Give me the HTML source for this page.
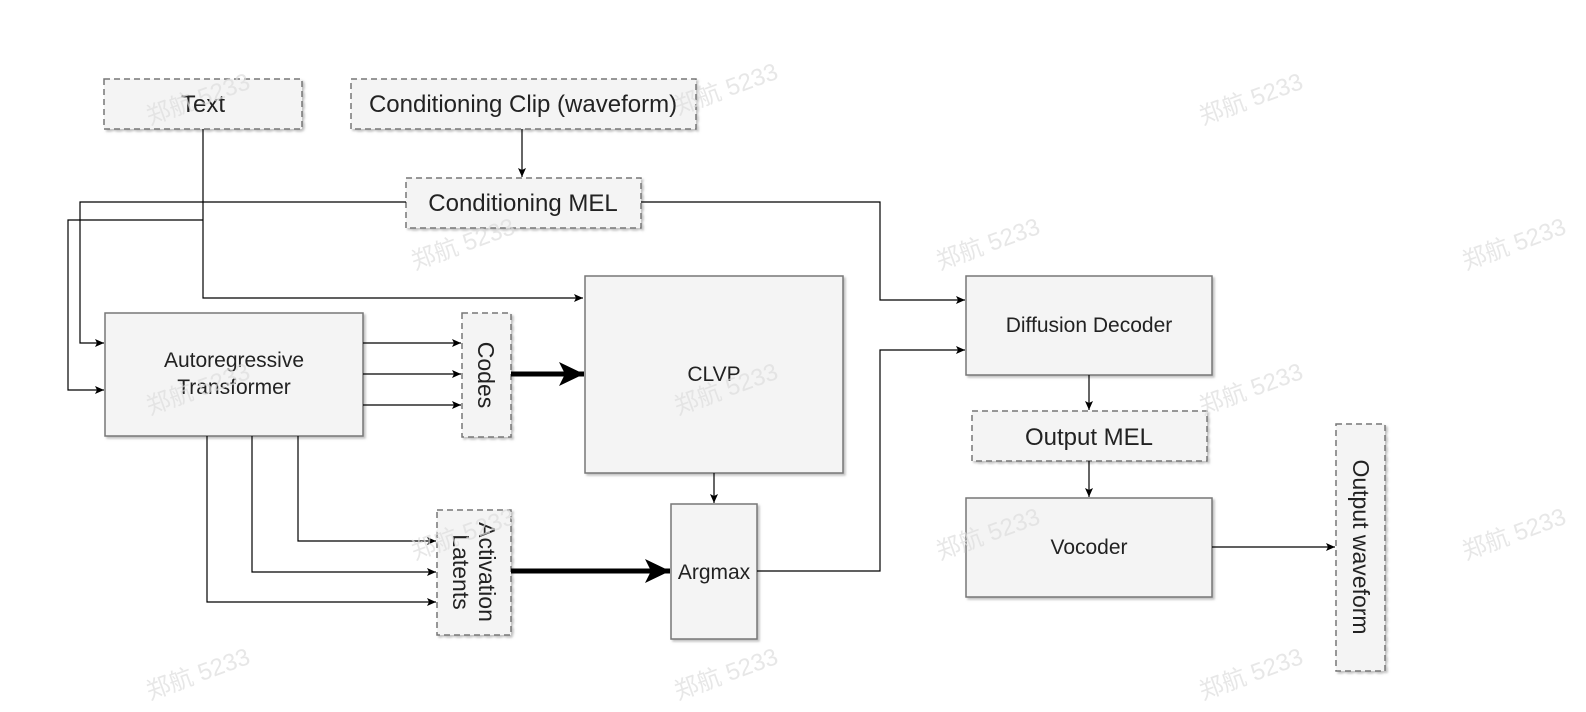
<!DOCTYPE html>
<html><head><meta charset="utf-8"><style>
html,body{margin:0;padding:0;background:#fff;}
svg{display:block;font-family:"Liberation Sans","Noto Sans CJK SC",sans-serif;}
</style></head><body>
<svg width="1586" height="712" viewBox="0 0 1586 712" xmlns="http://www.w3.org/2000/svg">
<defs>
<marker id="a" markerWidth="10" markerHeight="10" refX="9" refY="5" orient="auto" markerUnits="userSpaceOnUse"><path d="M0,1 L9,5 L0,9 L2,5 Z" fill="#000"/></marker>
<marker id="b" markerWidth="26" markerHeight="26" refX="25" refY="13" orient="auto" markerUnits="userSpaceOnUse"><path d="M0,1 L25,13 L0,25 L6,13 Z" fill="#000"/></marker>
<filter id="s" x="-5%" y="-5%" width="115%" height="115%"><feDropShadow dx="2" dy="2" stdDeviation="1" flood-color="#999" flood-opacity="0.6"/></filter>
</defs>
<g fill="#f4f4f4" stroke="#777" stroke-width="1.5" filter="url(#s)">
<rect x="104" y="79" width="198" height="50" stroke-dasharray="6,4"/>
<rect x="351" y="79" width="345" height="50" stroke-dasharray="6,4"/>
<rect x="406" y="178" width="235" height="50" stroke-dasharray="6,4"/>
<rect x="105" y="313" width="258" height="123"/>
<rect x="462" y="313" width="49" height="124" stroke-dasharray="6,4"/>
<rect x="585" y="276" width="258" height="197"/>
<rect x="671" y="504" width="86" height="135"/>
<rect x="437" y="510" width="74" height="125" stroke-dasharray="6,4"/>
<rect x="966" y="276" width="246" height="99"/>
<rect x="972" y="411" width="235" height="50" stroke-dasharray="6,4"/>
<rect x="966" y="498" width="246" height="99"/>
<rect x="1336" y="424" width="49" height="247" stroke-dasharray="6,4"/>
</g>
<g fill="none" stroke="#000" stroke-width="1.2">
<path d="M203,129 V298 H583" marker-end="url(#a)"/>
<path d="M406,202 H80 V343 H104" marker-end="url(#a)"/>
<path d="M203,220 H68 V390 H104" marker-end="url(#a)"/>
<path d="M522,129 V177" marker-end="url(#a)"/>
<path d="M641,202 H880 V300 H965" marker-end="url(#a)"/>
<path d="M757,571 H880 V350 H965" marker-end="url(#a)"/>
<path d="M363,343 H461" marker-end="url(#a)"/>
<path d="M363,374 H461" marker-end="url(#a)"/>
<path d="M363,405 H461" marker-end="url(#a)"/>
<path d="M714,473 V503" marker-end="url(#a)"/>
<path d="M298,436 V541 H436" marker-end="url(#a)"/>
<path d="M252,436 V572 H436" marker-end="url(#a)"/>
<path d="M207,436 V602 H436" marker-end="url(#a)"/>
<path d="M1089,375 V410" marker-end="url(#a)"/>
<path d="M1089,461 V497" marker-end="url(#a)"/>
<path d="M1212,547 H1335" marker-end="url(#a)"/>
<path d="M511,374 H584" stroke-width="5" marker-end="url(#b)"/>
<path d="M511,571 H670" stroke-width="5" marker-end="url(#b)"/>
</g>
<g fill="#222" font-size="24" text-anchor="middle">
<text x="203" y="112">Text</text>
<text x="523" y="112">Conditioning Clip (waveform)</text>
<text x="523" y="211">Conditioning MEL</text>
<text x="1089" y="445">Output MEL</text>
</g>
<g fill="#222" font-size="21" text-anchor="middle">
<text x="234" y="367">Autoregressive</text>
<text x="234" y="394">Transformer</text>
<text x="714" y="381">CLVP</text>
<text x="714" y="579">Argmax</text>
<text x="1089" y="332">Diffusion Decoder</text>
<text x="1089" y="554">Vocoder</text>
</g>
<g fill="#222" font-size="23" text-anchor="middle">
<text transform="translate(478,375) rotate(90)">Codes</text>
<text transform="translate(479,572) rotate(90)">Activation</text>
<text transform="translate(453,572) rotate(90)">Latents</text>
<text transform="translate(1353,547) rotate(90)">Output waveform</text>
</g>
<g fill="#ddd" font-size="24" opacity="0.7">
<text transform="translate(150,125) rotate(-20)">郑航 5233</text>
<text transform="translate(678,115) rotate(-20)">郑航 5233</text>
<text transform="translate(1203,125) rotate(-20)">郑航 5233</text>
<text transform="translate(415,270) rotate(-20)">郑航 5233</text>
<text transform="translate(940,270) rotate(-20)">郑航 5233</text>
<text transform="translate(1466,270) rotate(-20)">郑航 5233</text>
<text transform="translate(150,415) rotate(-20)">郑航 5233</text>
<text transform="translate(678,415) rotate(-20)">郑航 5233</text>
<text transform="translate(1203,415) rotate(-20)">郑航 5233</text>
<text transform="translate(415,560) rotate(-20)">郑航 5233</text>
<text transform="translate(940,560) rotate(-20)">郑航 5233</text>
<text transform="translate(1466,560) rotate(-20)">郑航 5233</text>
<text transform="translate(150,700) rotate(-20)">郑航 5233</text>
<text transform="translate(678,700) rotate(-20)">郑航 5233</text>
<text transform="translate(1203,700) rotate(-20)">郑航 5233</text>
</g>
</svg>
</body></html>
